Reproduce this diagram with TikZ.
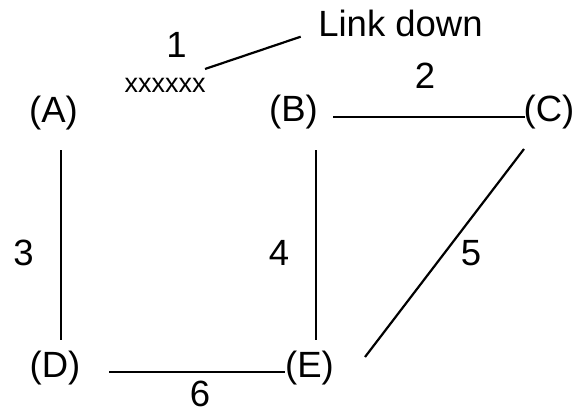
\documentclass[tikz,border=0pt]{standalone}
\usepackage{fontspec}
\setmainfont{Liberation Sans}
\begin{document}
\begin{tikzpicture}[x=1pt,y=-1pt,
  lbl/.style={anchor=base,inner sep=0pt,font=\fontsize{36.5}{42}\selectfont},
  small/.style={anchor=base,inner sep=0pt,font=\fontsize{27}{32}\selectfont},
  link/.style={line width=2.2pt,line cap=butt}]
\useasboundingbox[fill=white] (0,0) rectangle (575,412);
% router labels
\node[lbl] (A) at (53.5,122) {(A)};
\node[lbl] (B) at (293.5,121) {(B)};
\node[lbl] (C) at (549,121) {(C)};
\node[lbl] (D) at (55,377) {(D)};
\node[lbl] (E) at (309.5,377) {(E)};
% link numbers
\node[lbl] (n1) at (176.5,57) {1};
\node[small] (xx) at (165,92) {xxxxxx};
\node[lbl] (ld) at (400.5,37) {Link down};
\node[lbl] (n2) at (425,88) {2};
\node[lbl] (n3) at (23.5,265) {3};
\node[lbl] (n4) at (279,265) {4};
\node[lbl] (n5) at (471,265) {5};
\node[lbl] (n6) at (200,406.5) {6};
% endpoints
\coordinate (ad1) at (61,150); \coordinate (ad2) at (61,340);
\coordinate (be1) at (316,150); \coordinate (be2) at (316,340);
\coordinate (bc1) at (333,116.7); \coordinate (bc2) at (525,116.7);
\coordinate (de1) at (109,372.3); \coordinate (de2) at (285,372.3);
\coordinate (ce1) at (524,149); \coordinate (ce2) at (365,357);
\coordinate (lk1) at (205,69); \coordinate (lk2) at (300.7,36.7);
\draw[link] (ad1) -- (ad2);
\draw[link] (be1) -- (be2);
\draw[link] (bc1) -- (bc2);
\draw[link] (de1) -- (de2);
\draw[link] (ce1) -- (ce2);
\draw[link] (lk1) -- (lk2);
\end{tikzpicture}
\end{document}
